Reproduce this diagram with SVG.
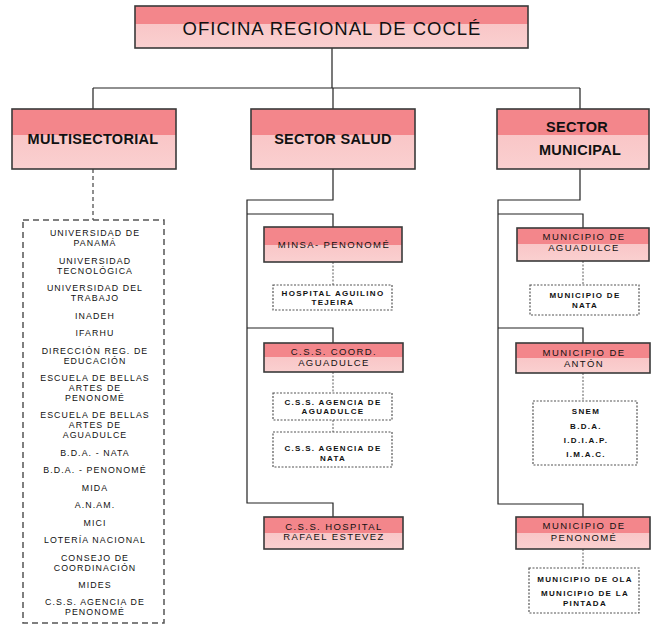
<svg xmlns="http://www.w3.org/2000/svg" width="652" height="629" viewBox="0 0 652 629">
<defs>
<linearGradient id="pk" x1="0" y1="0" x2="0" y2="1">
<stop offset="0" stop-color="#F3868B"/><stop offset="0.44" stop-color="#F3868B"/><stop offset="0.44" stop-color="#F9C6C7"/><stop offset="1" stop-color="#FAD0D0"/>
</linearGradient>
<linearGradient id="pk2" x1="0" y1="0" x2="0" y2="1">
<stop offset="0" stop-color="#F3868B"/><stop offset="0.5" stop-color="#F3868B"/><stop offset="0.5" stop-color="#F9C6C7"/><stop offset="1" stop-color="#FAD0D0"/>
</linearGradient>
</defs>
<style>
.bx{fill:url(#pk);stroke:#3a3a3a;stroke-width:1.6}
.sb{fill:url(#pk2);stroke:#3a3a3a;stroke-width:1.6}
.db{fill:#fff;stroke:#555;stroke-width:1.2;stroke-dasharray:2 1.5}
.lb{fill:#fff;stroke:#555;stroke-width:1.5;stroke-dasharray:6 4}
.ln{fill:none;stroke:#222;stroke-width:1.2}
.dl{fill:none;stroke:#777;stroke-width:1.2;stroke-dasharray:2 1.5}
.dd{fill:none;stroke:#444;stroke-width:1.2;stroke-dasharray:4 3}
text{font-family:"Liberation Sans",Arial,sans-serif;fill:#111;text-anchor:middle}
.t1{font-size:18.5px;letter-spacing:1px}
.t2{font-size:14.5px;font-weight:bold;letter-spacing:0.3px}
.t3{font-size:8.8px;letter-spacing:1.1px}
.t5{font-size:9.5px;letter-spacing:1.4px}
.t4{font-size:8px;font-weight:bold;letter-spacing:1.3px}
</style>
<g id="connectors">
<path class="ln" d="M332 48V88M93 88H580M93 88V109M333 88V109M580 88V109"/>
<path class="dd" d="M93 169V220"/>
<path class="ln" d="M333 169V200H247V503H333V517M247 214H333V227M247 328H333V343"/>
<path class="ln" d="M580 169V200H498V504H583V517M498 214H583V228M498 328H583V343"/>
<path class="dl" d="M333 262V285M333 372V393M333 420V432M583 261V285M583 373V401M583 549V568"/>
</g>
<g id="oficina"><rect class="bx" x="135" y="6" width="393" height="42"/><text class="t1" x="332" y="35">OFICINA REGIONAL DE COCLÉ</text></g>
<g id="multisectorial"><rect class="bx" x="12" y="109" width="164" height="60"/><text class="t2" x="93" y="144">MULTISECTORIAL</text></g>
<g id="salud"><rect class="bx" x="251" y="109" width="164" height="60"/><text class="t2" x="333" y="144">SECTOR SALUD</text></g>
<g id="municipal"><rect class="bx" x="497" y="109" width="152" height="60"/><text class="t2" x="577" y="132">SECTOR</text><text class="t2" x="580" y="155">MUNICIPAL</text></g>
<g id="lista"><rect class="lb" x="23" y="220" width="141" height="403"/>
<text class="t3" x="95" y="236">UNIVERSIDAD DE</text><text class="t3" x="95" y="246">PANAMÁ</text>
<text class="t3" x="95" y="263.5">UNIVERSIDAD</text><text class="t3" x="95" y="273.5">TECNOLÓGICA</text>
<text class="t3" x="95" y="291">UNIVERSIDAD DEL</text><text class="t3" x="95" y="301">TRABAJO</text>
<text class="t3" x="95" y="318.5">INADEH</text>
<text class="t3" x="95" y="336">IFARHU</text>
<text class="t3" x="95" y="353.5">DIRECCIÓN REG. DE</text><text class="t3" x="95" y="363.5">EDUCACIÓN</text>
<text class="t3" x="95" y="381">ESCUELA DE BELLAS</text><text class="t3" x="95" y="391">ARTES DE</text><text class="t3" x="95" y="401">PENONOMÉ</text>
<text class="t3" x="95" y="418">ESCUELA DE BELLAS</text><text class="t3" x="95" y="428">ARTES DE</text><text class="t3" x="95" y="438">AGUADULCE</text>
<text class="t3" x="95" y="455.5">B.D.A. - NATA</text>
<text class="t3" x="95" y="473">B.D.A. - PENONOMÉ</text>
<text class="t3" x="95" y="490.5">MIDA</text>
<text class="t3" x="95" y="508">A.N.AM.</text>
<text class="t3" x="95" y="525.5">MICI</text>
<text class="t3" x="95" y="543">LOTERÍA NACIONAL</text>
<text class="t3" x="95" y="560.5">CONSEJO DE</text><text class="t3" x="95" y="570.5">COORDINACIÓN</text>
<text class="t3" x="95" y="588">MIDES</text>
<text class="t3" x="95" y="605">C.S.S. AGENCIA DE</text><text class="t3" x="95" y="615">PENONOMÉ</text>
</g>
<g id="minsa"><rect class="sb" x="264" y="227" width="138" height="35"/><text class="t5" x="334" y="248">MINSA- PENONOMÉ</text></g>
<g id="hospital-aguilino"><rect class="db" x="273" y="285" width="119" height="25"/><text class="t4" x="333" y="296">HOSPITAL AGUILINO</text><text class="t4" x="333" y="305">TEJEIRA</text></g>
<g id="css-coord"><rect class="sb" x="264" y="343" width="139" height="29"/><text class="t5" x="334" y="355">C.S.S. COORD.</text><text class="t5" x="334" y="366">AGUADULCE</text></g>
<g id="css-aguadulce"><rect class="db" x="273" y="393" width="119" height="27"/><text class="t4" x="333" y="405">C.S.S. AGENCIA DE</text><text class="t4" x="333" y="414">AGUADULCE</text></g>
<g id="css-nata"><rect class="db" x="273" y="432" width="119" height="35"/><text class="t4" x="333" y="451">C.S.S. AGENCIA DE</text><text class="t4" x="333" y="461">NATA</text></g>
<g id="css-hospital"><rect class="sb" x="264" y="517" width="139" height="32"/><text class="t5" x="334" y="530">C.S.S. HOSPITAL</text><text class="t5" x="334" y="540">RAFAEL ESTEVEZ</text></g>
<g id="mun-aguadulce"><rect class="sb" x="517" y="228" width="132" height="33"/><text class="t5" x="584" y="240">MUNICIPIO DE</text><text class="t5" x="584" y="251">AGUADULCE</text></g>
<g id="mun-nata"><rect class="db" x="530" y="285" width="109" height="30"/><text class="t4" x="585" y="298">MUNICIPIO DE</text><text class="t4" x="585" y="308">NATA</text></g>
<g id="mun-anton"><rect class="sb" x="516" y="343" width="134" height="30"/><text class="t5" x="584" y="356">MUNICIPIO DE</text><text class="t5" x="584" y="367">ANTÓN</text></g>
<g id="anton-list"><rect class="db" x="533" y="401" width="104" height="64"/><text class="t4" x="586" y="414">SNEM</text><text class="t4" x="586" y="429">B.D.A.</text><text class="t4" x="586" y="443">I.D.I.A.P.</text><text class="t4" x="586" y="457">I.M.A.C.</text></g>
<g id="mun-penonome"><rect class="sb" x="516" y="517" width="134" height="32"/><text class="t5" x="584" y="529">MUNICIPIO DE</text><text class="t5" x="584" y="541">PENONOMÉ</text></g>
<g id="penonome-list"><rect class="db" x="529" y="568" width="110" height="45"/><text class="t4" x="585" y="582">MUNICIPIO DE OLA</text><text class="t4" x="585" y="596">MUNICIPIO DE LA</text><text class="t4" x="585" y="606">PINTADA</text></g>
</svg>
